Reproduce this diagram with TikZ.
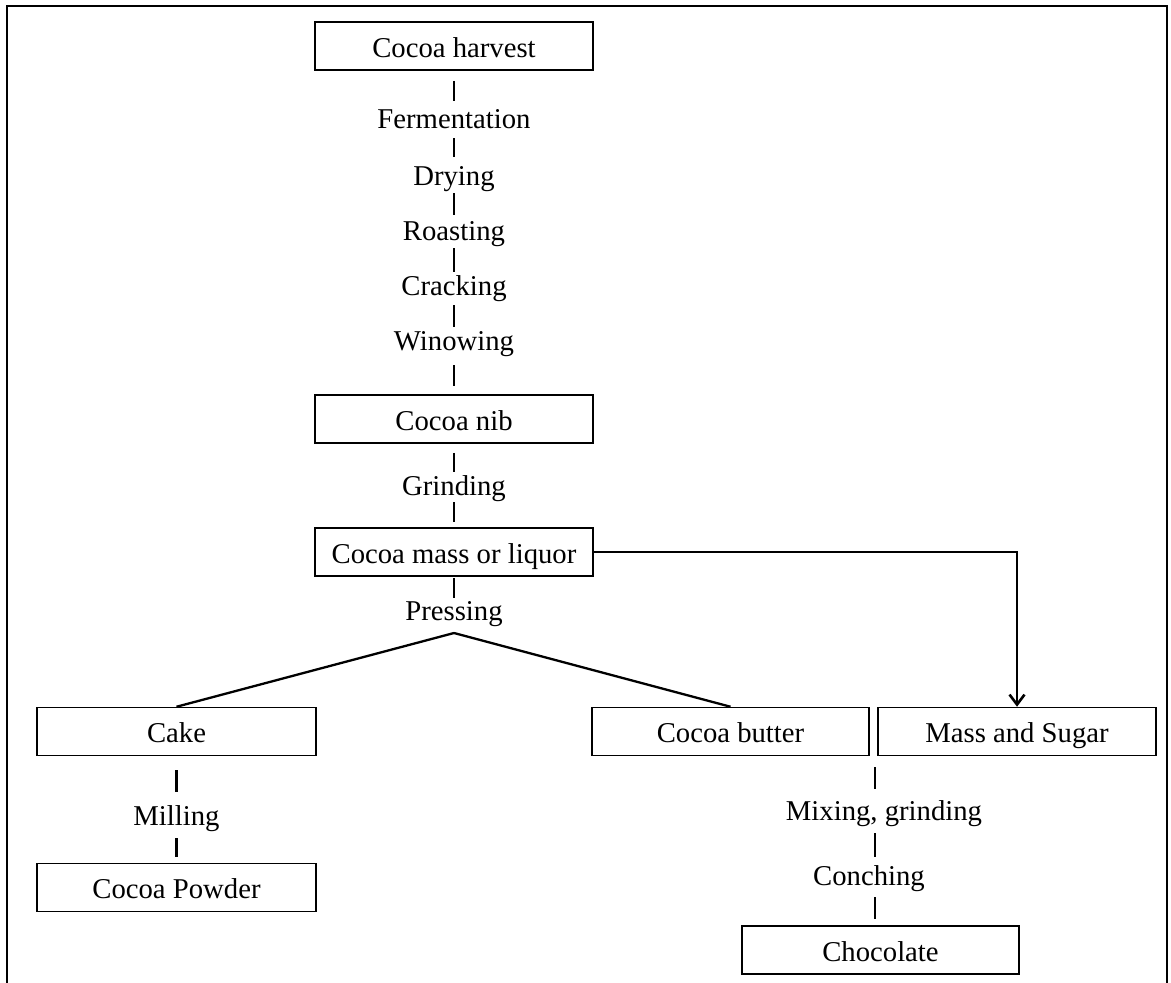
\documentclass[tikz,border=0pt]{standalone}
\usepackage{fontspec}
\setmainfont{Liberation Serif}
\usetikzlibrary{arrows.meta}
\begin{document}
\begin{tikzpicture}[x=1pt,y=-1pt,
  font=\fontsize{28.7}{34}\selectfont,
  box/.style={draw, line width=1.5pt, minimum width=278pt, minimum height=48pt,
    inner sep=0pt, text height=22pt, text depth=0pt},
  lbl/.style={inner sep=0pt, text height=19pt, text depth=6pt, anchor=base},
  dashlink/.style={line width=2.5pt},
  link/.style={line width=2.3pt},
  frame/.style={line width=2.3pt}]
\useasboundingbox (0,0) rectangle (1171,983);
\draw[frame] (7,983) -- (7,6) -- (1167,6) -- (1167,983);

% boxes
\node[box] (harvest) at (454,46) {Cocoa harvest};
\node[box] (nib) at (454,419) {Cocoa nib};
\node[box] (mass) at (454,552) {Cocoa mass or liquor};
\node[box, minimum width=279pt] (cake) at (176.5,731.5) {Cake};
\node[box, minimum width=279pt] (powder) at (176.5,887.5) {Cocoa Powder};
\node[box, minimum width=277pt] (butter) at (730.5,731.5) {Cocoa butter};
\node[box] (sugar) at (1017,731.5) {Mass and Sugar};
\node[box, minimum width=277pt] (chocolate) at (880.5,950) {Chocolate};

% labels
\node[lbl] (ferm) at (454,128) {Fermentation};
\node[lbl] (drying) at (454,185) {Drying};
\node[lbl] (roasting) at (454,240) {Roasting};
\node[lbl] (cracking) at (454,295) {Cracking};
\node[lbl] (winowing) at (454,350) {Winowing};
\node[lbl] (grinding) at (454,495) {Grinding};
\node[lbl] (pressing) at (454,620) {Pressing};
\node[lbl] (milling) at (176.5,825) {Milling};
\node[lbl] (mixing) at (884,820) {Mixing, grinding};
\node[lbl] (conching) at (869,885) {Conching};
\coordinate (mx) at (875,0);
\coordinate (apex) at (454,633);

% main column dashes
\draw[dashlink, shorten <=10pt, shorten >=8pt] (harvest.south) -- (ferm.north);
\draw[dashlink, shorten <=4pt, shorten >=9pt] (ferm.south) -- (drying.north);
\draw[dashlink, shorten <=2pt, shorten >=6pt] (drying.south) -- (roasting.north);
\draw[dashlink, shorten <=2pt, shorten >=4pt] (roasting.south) -- (cracking.north);
\draw[dashlink, shorten <=4pt, shorten >=4pt] (cracking.south) -- (winowing.north);
\draw[dashlink, shorten <=9pt, shorten >=8pt] (winowing.south) -- (nib.north);
\draw[dashlink, shorten <=9pt, shorten >=4pt] (nib.south) -- (grinding.north);
\draw[dashlink, shorten <=1pt, shorten >=5pt] (grinding.south) -- (mass.north);
\draw[dashlink, shorten <=1pt, shorten >=3pt] (mass.south) -- (pressing.north);

% pressing split
\draw[link] (apex) -- (cake.north);
\draw[link] (apex) -- (butter.north);

% left branch
\draw[dashlink, shorten <=14pt, shorten >=14pt] (cake.south) -- (milling.north);
\draw[dashlink, shorten <=7pt, shorten >=6pt] (milling.south) -- (powder.north);

% right branch
\draw[dashlink, shorten <=11pt, shorten >=12pt] (butter.south -| mx) -- (mixing.north -| mx);
\draw[dashlink, shorten <=7pt, shorten >=9pt] (mixing.south -| mx) -- (conching.north -| mx);
\draw[dashlink, shorten <=6pt, shorten >=6pt] (conching.south -| mx) -- (chocolate.north -| mx);

% arrow to mass and sugar
\draw[link, -{Straight Barb[length=10pt,width=15pt,line width=2.6pt]}]
  (mass.east) -- (mass.east -| sugar.north) -- (sugar.north);
\end{tikzpicture}
\end{document}
